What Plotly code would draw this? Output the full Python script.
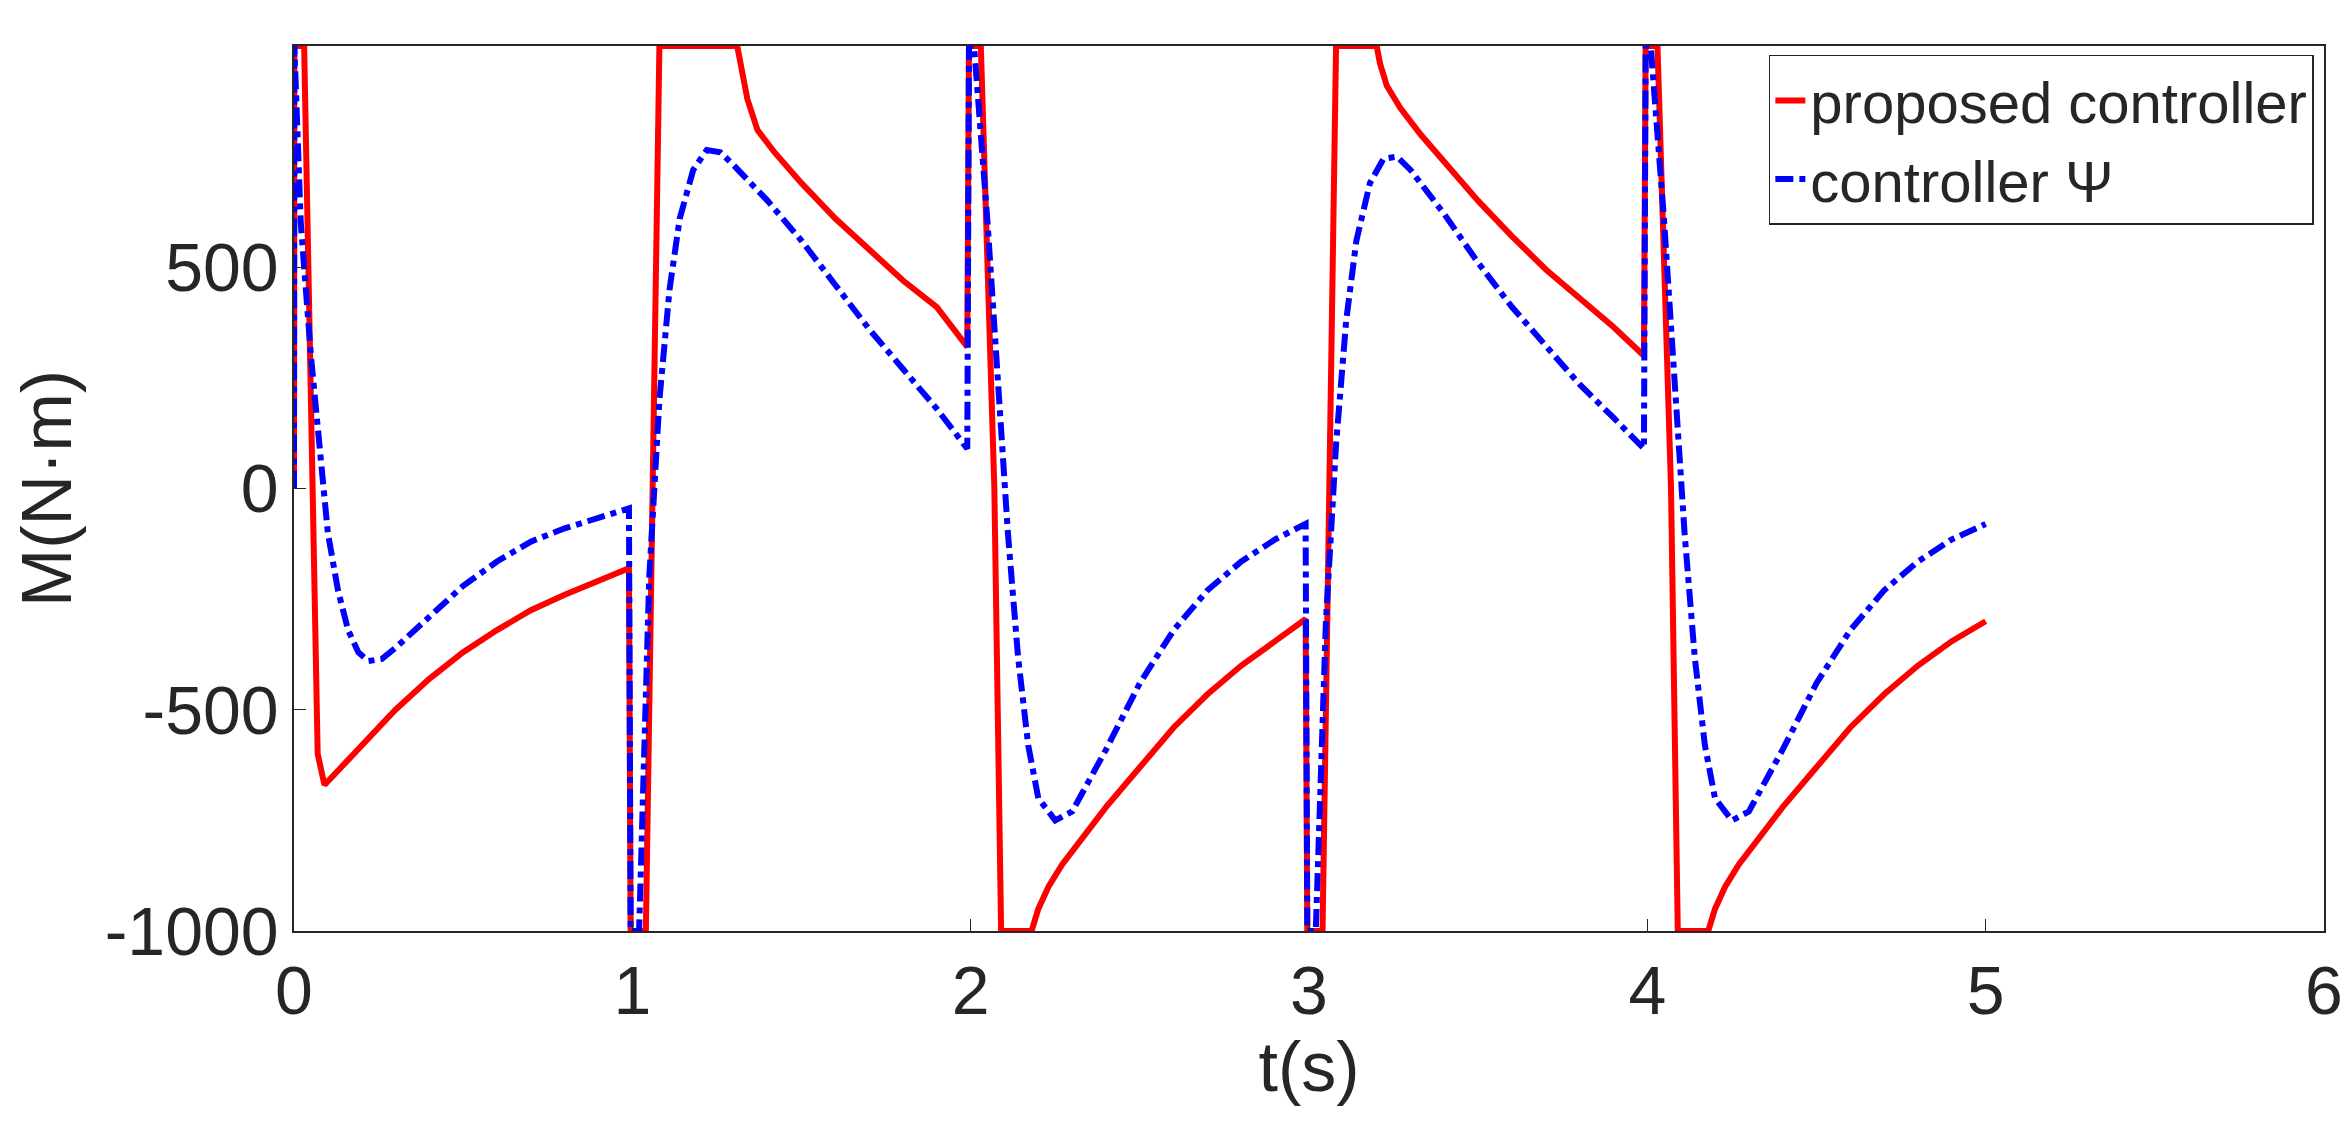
import plotly.graph_objects as go

# proposed controller (red, solid)
t_red = [0, 0.001, 0.03, 0.05, 0.07, 0.09, 0.14, 0.2, 0.3, 0.4, 0.5, 0.6, 0.7, 0.8, 0.9, 0.99,
         0.995, 1.04, 1.06, 1.08, 1.31, 1.32, 1.34, 1.37, 1.42, 1.5, 1.6, 1.7, 1.8, 1.9, 1.99,
         1.995, 2.03, 2.07, 2.09, 2.18, 2.2, 2.23, 2.27, 2.33, 2.4, 2.5, 2.6, 2.7, 2.8, 2.9, 2.99,
         2.995, 3.04, 3.06, 3.08, 3.2, 3.21, 3.23, 3.27, 3.33, 3.4, 3.5, 3.6, 3.7, 3.8, 3.9, 3.99,
         3.995, 4.03, 4.07, 4.09, 4.18, 4.2, 4.23, 4.27, 4.33, 4.4, 4.5, 4.6, 4.7, 4.8, 4.9, 5.0]
m_red = [0, 1000, 1000, 200, -600, -670, -630, -580, -500, -430, -370, -320, -275, -240, -208, -180,
         -1000, -1000, 0, 1000, 1000, 960, 880, 810, 760, 690, 610, 540, 470, 410, 320,
         1000, 1000, 0, -1000, -1000, -950, -900, -850, -790, -720, -630, -540, -465, -400, -345, -295,
         -1000, -1000, 0, 1000, 1000, 960, 910, 860, 800, 740, 650, 570, 495, 430, 365, 300,
         1000, 1000, 0, -1000, -1000, -950, -900, -850, -790, -720, -630, -540, -465, -400, -345, -300]

# controller Psi (blue, dash-dot)
t_blue = [0, 0.001, 0.02, 0.05, 0.1, 0.13, 0.16, 0.19, 0.22, 0.26, 0.3, 0.4, 0.5, 0.6, 0.7, 0.8, 0.9, 0.99,
          0.995, 1.02, 1.05, 1.08, 1.11, 1.14, 1.18, 1.22, 1.26, 1.3, 1.4, 1.5, 1.6, 1.7, 1.8, 1.9, 1.99,
          1.995, 2.01, 2.05, 2.08, 2.11, 2.14, 2.17, 2.2, 2.25, 2.3, 2.4, 2.5, 2.6, 2.7, 2.8, 2.9, 2.99,
          2.995, 3.02, 3.05, 3.08, 3.11, 3.14, 3.18, 3.22, 3.26, 3.3, 3.4, 3.5, 3.6, 3.7, 3.8, 3.9, 3.99,
          3.995, 4.01, 4.05, 4.08, 4.11, 4.14, 4.17, 4.2, 4.25, 4.3, 4.4, 4.5, 4.6, 4.7, 4.8, 4.9, 5.0]
m_blue = [0, 1000, 600, 300, -100, -230, -320, -370, -390, -385, -360, -290, -220, -165, -120, -90, -65, -45,
          -1000, -1000, -200, 200, 450, 610, 720, 765, 760, 730, 650, 560, 460, 360, 270, 180, 90,
          1000, 1000, 600, 250, -100, -380, -580, -700, -750, -730, -590, -440, -320, -230, -165, -115, -80,
          -1000, -1000, -300, 100, 380, 560, 690, 745, 750, 720, 620, 510, 410, 320, 235, 160, 90,
          1000, 1000, 600, 250, -100, -380, -580, -700, -750, -730, -590, -440, -320, -230, -165, -115, -80]

fig = go.Figure()
fig.add_trace(go.Scatter(x=t_red, y=m_red, mode='lines', name='proposed controller',
                         line=dict(color='#ff0000', width=6)))
fig.add_trace(go.Scatter(x=t_blue, y=m_blue, mode='lines', name='controller Ψ',
                         line=dict(color='#0000ff', width=6, dash='dashdot')))

axis = dict(showline=True, mirror=True, linecolor='#262626', linewidth=1.5,
            ticks='inside', ticklen=12, tickcolor='#262626', showgrid=False,
            zeroline=False, tickfont=dict(size=68, color='#262626'))
fig.update_xaxes(range=[0, 6], tickvals=[0, 1, 2, 3, 4, 5, 6],
                 title=dict(text='t(s)', font=dict(size=70, color='#262626'), standoff=8), **axis)
fig.update_yaxes(range=[-1000, 1000], tickvals=[-1000, -500, 0, 500, 1000],
                 ticktext=['-1000', '-500', '0', '500', '1000'],
                 title=dict(text='M(N·m)', font=dict(size=70, color='#262626'), standoff=14), **axis)
fig.update_layout(
    width=2350, height=1131, plot_bgcolor='white', paper_bgcolor='white',
    font=dict(family='Liberation Sans, Arial', color='#262626'),
    margin=dict(l=286, r=34, t=38, b=208),
    legend=dict(x=0.995, y=0.99, xanchor='right', yanchor='top', bgcolor='white',
                bordercolor='#262626', borderwidth=1.5, font=dict(size=58)),
)
fig.write_html("out.html")
